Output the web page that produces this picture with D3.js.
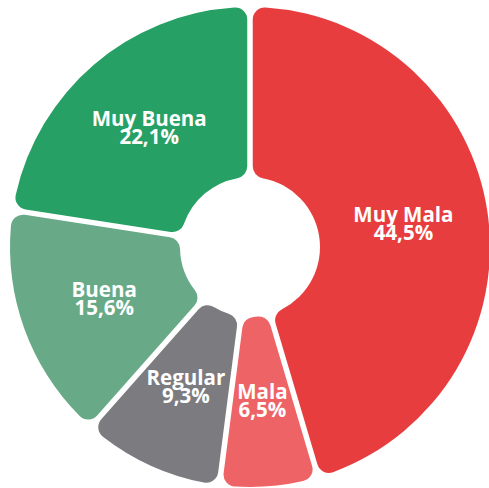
<!DOCTYPE html>
<html><head><meta charset="utf-8">
<script src="https://cdn.jsdelivr.net/npm/d3@7"></script>
<style>html,body{margin:0;padding:0;background:#fff}</style>
</head><body>
<svg id="c" width="489" height="488"></svg>
<script>
const categories = ["Muy Mala","Mala","Regular","Buena","Muy Buena"];
const values = [44.5, 6.5, 9.3, 15.6, 22.1];
const labels = ["44,5%","6,5%","9,3%","15,6%","22,1%"];
const colors = ["#e83d3f","#ee6466","#7c7b80","#68aa88","#26a064"];

const svg = d3.select("#c");
const cx = 250, cy = 247, R = 240, r0 = 70;
const g = svg.append("g").attr("transform", `translate(${cx},${cy})`);
const pie = d3.pie().sort(null).value(d => d.v);
const data = pie(categories.map((c,i)=>({c, v: values[i], l: labels[i], col: colors[i]})));
const arc = d3.arc().innerRadius(r0).outerRadius(R).cornerRadius(12).padAngle(0.022);
g.selectAll("path").data(data).join("path")
  .attr("d", arc).attr("fill", d => d.data.col);
const lab = d3.arc().innerRadius(r0).outerRadius(R);
const t = g.selectAll("text").data(data).join("text")
  .attr("transform", d => `translate(${lab.centroid(d)})`)
  .attr("text-anchor","middle")
  .attr("fill","#fff")
  .style("font-family","'Open Sans', sans-serif")
  .style("font-weight","700")
  .style("font-size","20.5px");
t.append("tspan").attr("x",0).attr("y",-3).text(d => d.data.c);
t.append("tspan").attr("x",0).attr("y",15).text(d => d.data.l);
</script>
</body></html>
